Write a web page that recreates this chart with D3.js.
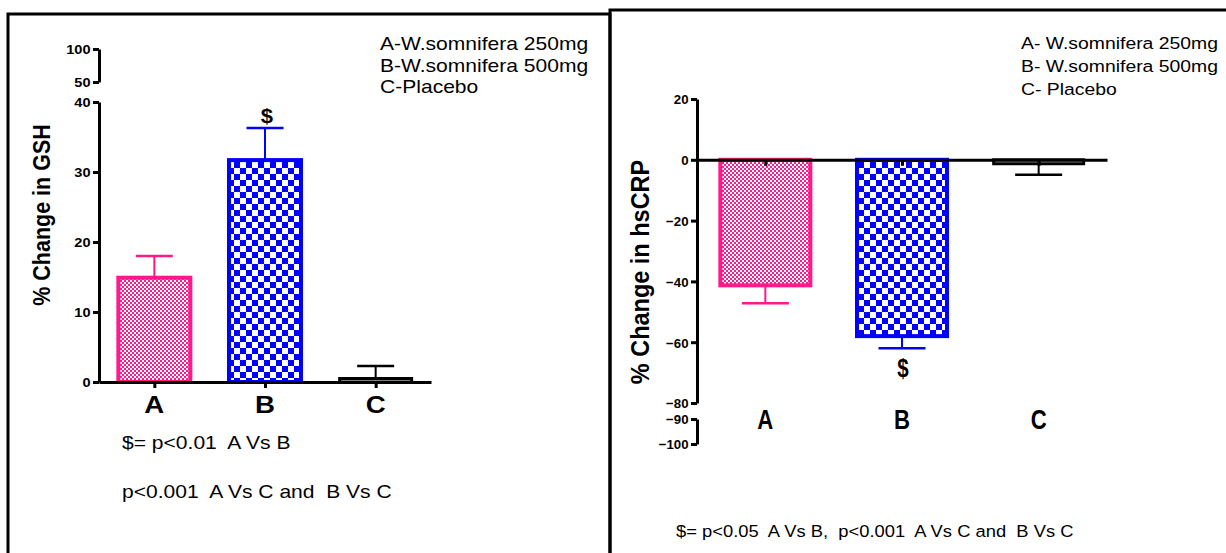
<!DOCTYPE html>
<html>
<head>
<meta charset="utf-8">
<script src="https://cdn.jsdelivr.net/npm/d3@7"></script>
<style>
  body { margin: 0; background: #fff; }
  text { font-family: "Liberation Sans", Arial, sans-serif; fill: #000; white-space: pre; }
</style>
</head>
<body>
<script>
'use strict';

// groups on the x axis
const cats = ["A", "B", "C"];

// % change in GSH (mean and SEM)
const gshMean = [14.9, 31.7, 0.5];
const gshErr = [3.1, 4.6, 1.8];
const gshTicksLow = [0, 10, 20, 30, 40];
const gshTicksHigh = [50, 100];

// % change in hsCRP (mean and SEM)
const crpMean = [-41.3, -58.0, -1.3];
const crpErr = [5.9, 4.0, 3.6];
const crpTicksMain = [-80, -60, -40, -20, 0, 20];
const crpTicksLow = [-100, -90];

// texts
const gshLegend = ["A-W.somnifera 250mg", "B-W.somnifera 500mg", "C-Placebo"];
const crpLegend = ["A- W.somnifera 250mg", "B- W.somnifera 500mg", "C- Placebo"];
const gshNotes = ["$= p<0.01  A Vs B", "p<0.001  A Vs C and  B Vs C"];
const crpNotes = ["$= p<0.05  A Vs B,  p<0.001  A Vs C and  B Vs C"];

const colors = ["#ff1a8c", "#0000ff", "#000000"];
const fills = ["url(#pinkCheck)", "url(#blueCheck)", "#ffffff"];

const svg = d3.select("body").append("svg")
  .attr("width", 1226)
  .attr("height", 553);

// checker patterns for the bars
const defs = svg.append("defs");
function checker(id, color, cell) {
  const p = defs.append("pattern")
    .attr("id", id)
    .attr("patternUnits", "userSpaceOnUse")
    .attr("width", cell * 2)
    .attr("height", cell * 2);
  p.append("rect").attr("width", cell * 2).attr("height", cell * 2).attr("fill", "#fff");
  p.append("rect").attr("width", cell).attr("height", cell).attr("fill", color);
  p.append("rect").attr("x", cell).attr("y", cell).attr("width", cell).attr("height", cell).attr("fill", color);
}
checker("pinkCheck", "#ff1a8c", 2);
checker("blueCheck", "#0000ff", 6);

// text helper, sx stretches the text sideways
function label(g, x, y, s, o) {
  return g.append("text")
    .attr("transform", `translate(${x},${y}) scale(${o.sx || 1},1)`)
    .attr("text-anchor", o.anchor || "start")
    .style("font-size", o.size + "px")
    .style("font-weight", o.bold ? "bold" : "normal")
    .text(s);
}

// style a d3 axis group: thick lines, bold labels
function styleAxis(g, size, sx) {
  g.select(".domain").attr("stroke-width", 3).attr("stroke", "#000");
  g.selectAll(".tick line").attr("stroke-width", 3).attr("stroke", "#000");
  g.selectAll(".tick text")
    .attr("x", null).attr("dy", null)
    .attr("transform", `translate(-8.5,4.8) scale(${sx},1)`)
    .style("font-size", size + "px")
    .style("font-weight", "bold")
    .style("font-family", "'Liberation Sans', Arial, sans-serif");
}

// frames
svg.append("rect").attr("x", 8).attr("y", 14).attr("width", 602).attr("height", 560)
  .attr("fill", "none").attr("stroke", "#000").attr("stroke-width", 3);
svg.append("rect").attr("x", 610).attr("y", 10).attr("width", 630).attr("height", 560)
  .attr("fill", "none").attr("stroke", "#000").attr("stroke-width", 3);

// ---------- left panel: GSH ----------
(function() {
  const g = svg.append("g");
  const x = d3.scalePoint().domain(cats).range([99, 431]).padding(0.5);
  const yLow = d3.scaleLinear().domain([0, 40]).range([382, 102]);
  const yHigh = d3.scaleLinear().domain([50, 100]).range([82, 49]);
  const bw = 76;

  // bars
  g.selectAll(".bar").data(cats).enter().append("rect")
    .attr("x", d => x(d) - bw / 2 + 2)
    .attr("y", (d, i) => yLow(gshMean[i]))
    .attr("width", bw - 4)
    .attr("height", (d, i) => yLow(0) - yLow(gshMean[i]))
    .attr("fill", (d, i) => fills[i])
    .attr("stroke", (d, i) => colors[i])
    .attr("stroke-width", (d, i) => i == 2 ? 3 : 4);

  // error bars
  const cap = 37;
  cats.forEach((d, i) => {
    const top = yLow(gshMean[i] + gshErr[i]);
    g.append("line").attr("x1", x(d)).attr("x2", x(d))
      .attr("y1", yLow(gshMean[i])).attr("y2", top)
      .attr("stroke", colors[i]).attr("stroke-width", 2);
    g.append("line").attr("x1", x(d) - cap / 2).attr("x2", x(d) + cap / 2)
      .attr("y1", top).attr("y2", top)
      .attr("stroke", colors[i]).attr("stroke-width", 2.5);
  });

  // axes
  const yl = g.append("g").attr("transform", "translate(99,0)")
    .call(d3.axisLeft(yLow).tickValues(gshTicksLow).tickSize(6).tickSizeOuter(0));
  styleAxis(yl, 13, 1.12);
  const yh = g.append("g").attr("transform", "translate(99,0)")
    .call(d3.axisLeft(yHigh).tickValues(gshTicksHigh).tickSize(6).tickSizeOuter(0));
  styleAxis(yh, 13, 1.12);

  const xa = g.append("g").attr("transform", "translate(0,382)")
    .call(d3.axisBottom(x).tickSize(6).tickSizeOuter(0));
  xa.select(".domain").attr("stroke-width", 3).attr("stroke", "#000");
  xa.selectAll(".tick line").attr("stroke-width", 3).attr("stroke", "#000");
  xa.selectAll(".tick text").remove();
  cats.forEach(d => label(g, x(d), 413, d, {size: 24, bold: true, sx: 1.15, anchor: "middle"}));

  // significance mark
  label(g, x("B") + 2, 123, "$", {size: 21, bold: true, sx: 1.05, anchor: "middle"});

  // y title
  g.append("text")
    .attr("transform", "translate(50,215) rotate(-90) scale(1,1.12)")
    .attr("text-anchor", "middle")
    .style("font-size", "21.5px").style("font-weight", "bold")
    .text("% Change in GSH");

  // legend and notes
  gshLegend.forEach((s, i) => label(g, 380, 50 + i * 21.5, s, {size: 18, sx: 1.17}));
  gshNotes.forEach((s, i) => label(g, 122, 449 + i * 49, s, {size: 18, sx: 1.17}));
})();

// ---------- right panel: hsCRP ----------
(function() {
  const g = svg.append("g");
  const x = d3.scalePoint().domain(cats).range([697, 1107]).padding(0.5);
  const yMain = d3.scaleLinear().domain([-80, 20]).range([403, 99]);
  const yLow = d3.scaleLinear().domain([-100, -90]).range([444, 419]);
  const bw = 94;

  g.selectAll(".bar").data(cats).enter().append("rect")
    .attr("x", d => x(d) - bw / 2 + 2)
    .attr("y", yMain(0))
    .attr("width", bw - 4)
    .attr("height", (d, i) => yMain(crpMean[i]) - yMain(0))
    .attr("fill", (d, i) => fills[i])
    .attr("stroke", (d, i) => colors[i])
    .attr("stroke-width", (d, i) => i == 2 ? 3 : 4);

  const cap = 47;
  cats.forEach((d, i) => {
    const bot = yMain(crpMean[i] - crpErr[i]);
    g.append("line").attr("x1", x(d)).attr("x2", x(d))
      .attr("y1", yMain(crpMean[i])).attr("y2", bot)
      .attr("stroke", colors[i]).attr("stroke-width", 2);
    g.append("line").attr("x1", x(d) - cap / 2).attr("x2", x(d) + cap / 2)
      .attr("y1", bot).attr("y2", bot)
      .attr("stroke", colors[i]).attr("stroke-width", 2.5);
  });

  const ym = g.append("g").attr("transform", "translate(697,0)")
    .call(d3.axisLeft(yMain).tickValues(crpTicksMain).tickSize(6).tickSizeOuter(0));
  styleAxis(ym, 13.5, 0.98);
  const ylo = g.append("g").attr("transform", "translate(697,0)")
    .call(d3.axisLeft(yLow).tickValues(crpTicksLow).tickSize(6).tickSizeOuter(0));
  styleAxis(ylo, 13.5, 0.98);

  const xa = g.append("g").attr("transform", `translate(0,${yMain(0)})`)
    .call(d3.axisBottom(x).tickSize(6).tickSizeOuter(0));
  xa.select(".domain").attr("stroke-width", 3).attr("stroke", "#000");
  xa.selectAll(".tick line").attr("stroke-width", 3).attr("stroke", "#000");
  xa.selectAll(".tick text").remove();
  cats.forEach(d => label(g, x(d), 429, d, {size: 27, bold: true, sx: 0.82, anchor: "middle"}));

  label(g, x("B") + 1, 377, "$", {size: 25, bold: true, sx: 0.82, anchor: "middle"});

  g.append("text")
    .attr("transform", "translate(649,272) rotate(-90) scale(1,1.1)")
    .attr("text-anchor", "middle")
    .style("font-size", "23.5px").style("font-weight", "bold")
    .text("% Change in hsCRP");

  crpLegend.forEach((s, i) => label(g, 1021, 49 + i * 23, s, {size: 17, sx: 1.14}));
  crpNotes.forEach((s, i) => label(g, 676, 537, s, {size: 17, sx: 1.08}));
})();
</script>
</body>
</html>
